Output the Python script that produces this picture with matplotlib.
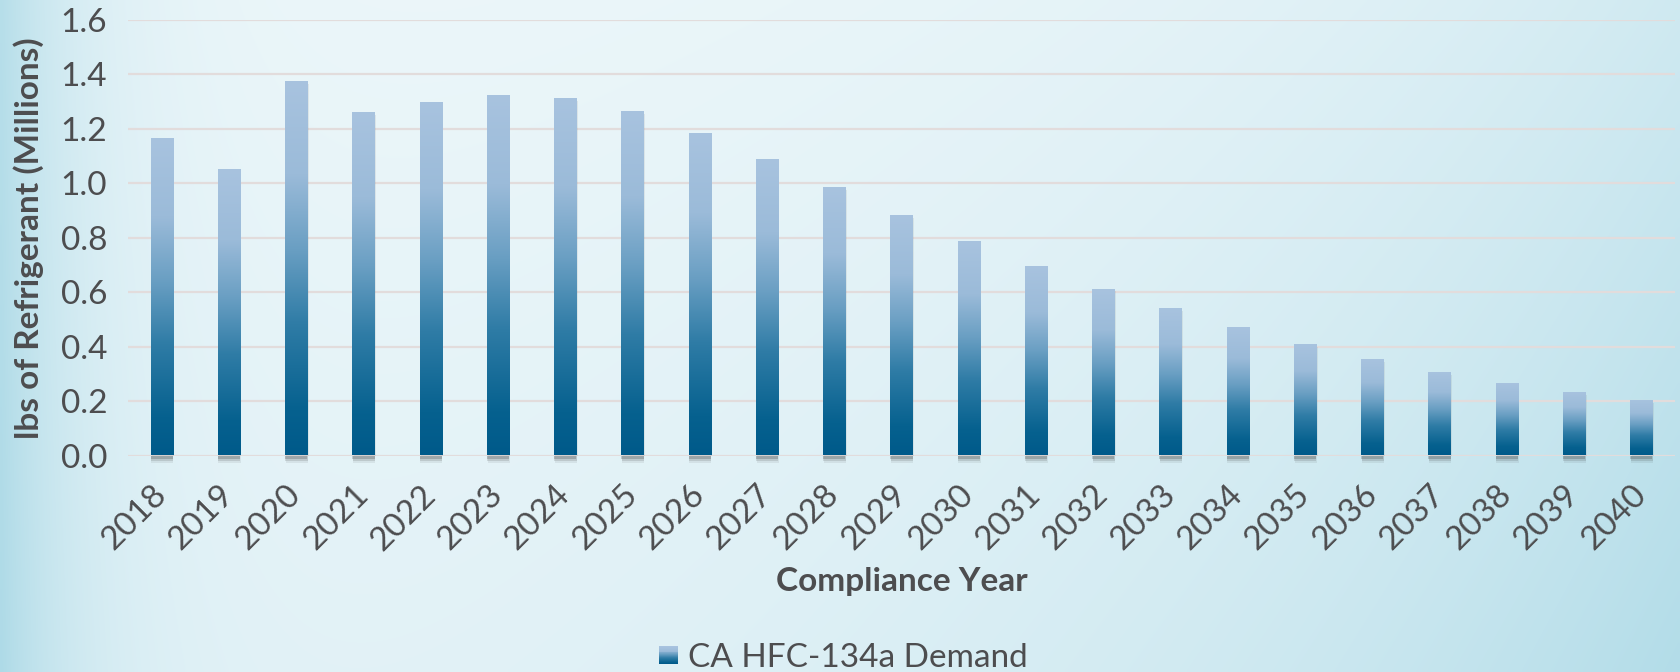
import numpy as np
import matplotlib
matplotlib.use("Agg")
import matplotlib.pyplot as plt
from matplotlib.colors import LinearSegmentedColormap
from matplotlib.patches import Rectangle
from matplotlib.legend_handler import HandlerBase

years = [str(y) for y in range(2018, 2041)]
demand = [1.166, 1.052, 1.375, 1.261, 1.298, 1.324, 1.313, 1.265, 1.184,
          1.088, 0.985, 0.882, 0.787, 0.698, 0.613, 0.541, 0.472, 0.409,
          0.354, 0.307, 0.266, 0.233, 0.204]
yticks = [0.0, 0.2, 0.4, 0.6, 0.8, 1.0, 1.2, 1.4, 1.6]
series_name = "CA HFC-134a Demand"
xlabel = "Compliance Year"
ylabel = "lbs of Refrigerant (Millions)"

plt.rcParams['font.family'] = ['Lato', 'DejaVu Sans']
TXT = '#4d4d4f'

W, H = 1680, 672
fig = plt.figure(figsize=(W / 100, H / 100), dpi=100)

# ---- background ----
bg_ax = fig.add_axes([0, 0, 1, 1], zorder=-10)
bg_ax.set_axis_off()
gx = np.linspace(0, 1, 420)[None, :]
gy = np.linspace(0, 1, 168)[:, None]
light = np.array([0.945, 0.975, 0.985])
blue = np.array([0.68, 0.855, 0.905])
w = (0.80 * np.exp(-gx / 0.05) + 0.45 * np.exp(-(1 - gx) / 0.28)
     + 0.30 * gy * gx ** 2 + 0.12 * gy + 0.05)
w = np.clip(w, 0, 1)
img = light[None, None, :] * (1 - w[..., None]) + blue[None, None, :] * w[..., None]
bg_ax.imshow(img, extent=[0, 1, 0, 1], aspect='auto', origin='upper',
             interpolation='bilinear')
bg_ax.set_xlim(0, 1)
bg_ax.set_ylim(0, 1)

# ---- main axes ----
ax = fig.add_axes([128 / W, 1 - 455.5 / H, (1675 - 128) / W, (455.5 - 20) / H])
ax.patch.set_alpha(0)
x = np.arange(len(years))
bw = 0.33

cmap = LinearSegmentedColormap.from_list(
    'bar', [(0.0, '#005a8a'), (0.12, '#06618f'), (0.35, '#2f7ca6'),
            (0.55, '#6a9fc3'), (0.75, '#9bbbd9'), (1.0, '#a8c3df')])
grad = np.linspace(0, 1, 256)[:, None]

bars = ax.bar(x, demand, width=bw, color='none', edgecolor='none', zorder=3)
for rect, v in zip(bars, demand):
    x0 = rect.get_x()
    # soft shadow below / right of bar
    for k, a in enumerate([0.22, 0.14, 0.08]):
        sh = Rectangle((x0 + 0.005 * k, -0.012 - 0.007 * k), bw, 0.012 + 0.007 * k,
                       facecolor='#303030', alpha=a, edgecolor='none', zorder=2,
                       clip_on=False)
        ax.add_patch(sh)
    sh2 = Rectangle((x0 + 0.02, 0), bw, v - 0.01, facecolor='#606060', alpha=0.10,
                    edgecolor='none', zorder=2)
    ax.add_patch(sh2)
    im = ax.imshow(grad, cmap=cmap, extent=[x0, x0 + bw, 0, v], origin='lower',
                   aspect='auto', zorder=3, interpolation='bilinear')
    im.set_clip_path(rect)

ax.set_xlim(-0.5, len(years) - 0.5)
ax.set_ylim(0, 1.6)
ax.set_yticks(yticks)
ax.set_yticklabels([f"{t:.1f}" for t in yticks])
ax.set_xticks(x)
ax.set_xticklabels(years, rotation=45, ha='right', va='center',
                   rotation_mode='anchor')
ax.tick_params(axis='both', length=0, labelsize=24, colors=TXT)
ax.tick_params(axis='x', pad=25)
ax.tick_params(axis='y', pad=15)
ax.grid(axis='y', color='#e2dcdc', linewidth=1.6, zorder=1)
ax.set_axisbelow(True)
for s in ax.spines.values():
    s.set_visible(False)

ax.set_xlabel(xlabel, fontsize=24, fontweight='bold', color=TXT, va='center')
ax.xaxis.set_label_coords(0.5, (455.5 - 581) / 435.5)
ax.set_ylabel(ylabel, fontsize=24, fontweight='bold', color=TXT, va='center')
ax.yaxis.set_label_coords((29 - 128) / 1547, 0.5)


class GradHandler(HandlerBase):
    def create_artists(self, legend, orig_handle, xdescent, ydescent, width,
                       height, fontsize, trans):
        n = 20
        arts = []
        size = min(width, height * 1.0)
        x0 = xdescent + (width - size)
        for i in range(n):
            c = cmap(i / (n - 1))
            r = Rectangle((x0, -ydescent + size * i / n - (size - height) / 2),
                          size, size / n + 0.2, facecolor=c, edgecolor='none',
                          transform=trans)
            arts.append(r)
        return arts


proxy = Rectangle((0, 0), 1, 1)
fig.legend([proxy], [series_name], handler_map={Rectangle: GradHandler()},
           loc='center', bbox_to_anchor=(843.5 / W, 1 - 658 / H), frameon=False,
           fontsize=24, labelcolor=TXT, handlelength=0.55, handleheight=0.55,
           handletextpad=0.3)

fig.savefig('out.png', dpi=100)
